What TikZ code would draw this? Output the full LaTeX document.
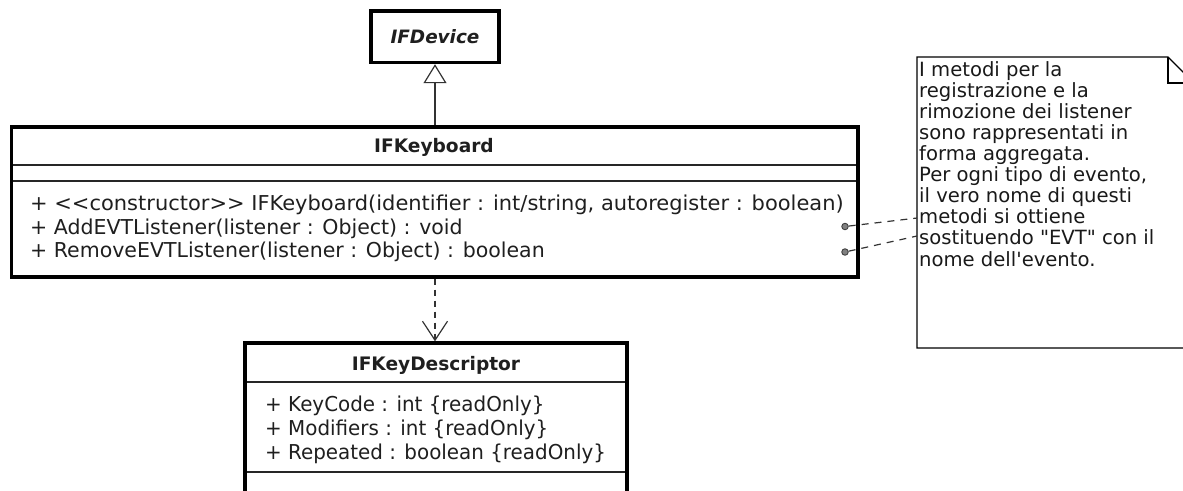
\documentclass[tikz,border=0pt]{standalone}
\usepackage{fontspec}
\newfontfamily\umlfont{DejaVu Sans}
\usetikzlibrary{arrows.meta}

\tikzset{
  classbox/.style={draw=black, line width=3.5pt, fill=white},
  sepline/.style={draw=black!85, line width=1.2pt},
  member/.style={anchor=mid west, inner sep=0pt, text=black!88,
                 font=\umlfont\fontsize{20.5}{24}\selectfont},
  notetext/.style={anchor=mid west, inner sep=0pt, text=black!90,
                   font=\umlfont\fontsize{19.6}{21}\selectfont},
  classtitle/.style={inner sep=0pt, text=black!88,
                     font=\umlfont\bfseries\fontsize{18.6}{22}\selectfont},
  attach/.style={draw=black!80, line width=1.2pt, dash pattern=on 7pt off 6pt},
  pin/.style={circle, draw=black!75, fill=black!50, line width=0.9pt,
              minimum size=6.5pt, inner sep=0pt},
}
% horizontally adjusted member text
\newcommand{\wide}[2]{\scalebox{#1}[1]{#2}}

\begin{document}
\begin{tikzpicture}[x=1pt, y=-1pt]
  \useasboundingbox (0,0) rectangle (1183,490);
  \clip (0,0) rectangle (1183,490);

  % interface IFDevice
  \draw[classbox] (371,11) rectangle (499,62.5);
  \coordinate (devS) at (435,64.2);
  \node[classtitle, font=\umlfont\bfseries\itshape\fontsize{18.4}{22}\selectfont]
    (dev) at (435,37) {IFDevice};

  % class IFKeyboard
  \draw[classbox] (11.5,127) rectangle (858,277);
  \draw[sepline] (13,165) -- (856,165);
  \draw[sepline] (13,181) -- (856,181);
  \coordinate (kbN) at (435,125.3);
  \coordinate (kbS) at (435,278.7);
  \node[classtitle] (kb) at (434,147) {IFKeyboard};
  \node[member] (kb1) at (30,208) {\wide{1.023}{+ <<constructor>> IFKeyboard(identifier : int/string, autoregister : boolean)}};
  \node[member] (kb2) at (30,232) {+ AddEVTListener(listener : Object) : void};
  \node[member] (kb3) at (30,255.5) {+ RemoveEVTListener(listener : Object) : boolean};

  % class IFKeyDescriptor
  \draw[classbox] (245,343) rectangle (627,520);
  \draw[sepline] (247,382) -- (625,382);
  \draw[sepline] (247,472) -- (625,472);
  \coordinate (descN) at (435,341.3);
  \node[classtitle] (desc) at (436,365) {IFKeyDescriptor};
  \node[member] (ds1) at (265,409) {\wide{0.97}{+ KeyCode : int \{readOnly\}}};
  \node[member] (ds2) at (265,433.5) {\wide{0.97}{+ Modifiers : int \{readOnly\}}};
  \node[member] (ds3) at (265,457) {\wide{0.97}{+ Repeated : boolean \{readOnly\}}};

  % note with folded corner
  \draw[line width=1.3pt, fill=white]
    (917,57) -- (1168,57) -- (1194,83) -- (1194,348) -- (917,348) -- cycle;
  \draw[line width=1.3pt] (1168,57) -- (1168,83) -- (1194,83);
  \coordinate (noteA) at (917,218);
  \coordinate (noteB) at (917,236);
  \foreach \txt [count=\i from 0] in {
      I metodi per la,
      registrazione e la,
      rimozione dei listener,
      sono rappresentati in,
      forma aggregata.,
      {Per ogni tipo di evento,},
      il vero nome di questi,
      metodi si ottiene,
      sostituendo "EVT" con il,
      nome dell'evento.}
    \node[notetext] (note\i) at (919,74+21.1*\i) {\txt};

  % generalization IFKeyboard -> IFDevice
  \draw[line width=1.2pt, draw=black!80,
        -{Triangle[open, length=19pt, width=23pt, line width=1.2pt]}]
    (kbN) -- (devS);

  % dependency IFKeyboard -> IFKeyDescriptor
  \draw[line width=1.2pt, draw=black!80, dash pattern=on 6pt off 5pt,
        -{Straight Barb[length=19pt, width=25pt, line width=1.2pt]}]
    (kbS) -- (descN);

  % note attachments
  \node[pin] (p1) at (845,226.5) {};
  \node[pin] (p2) at (845,252) {};
  \draw[attach] (p1) -- (noteA);
  \draw[attach] (p2) -- (noteB);
\end{tikzpicture}
\end{document}
